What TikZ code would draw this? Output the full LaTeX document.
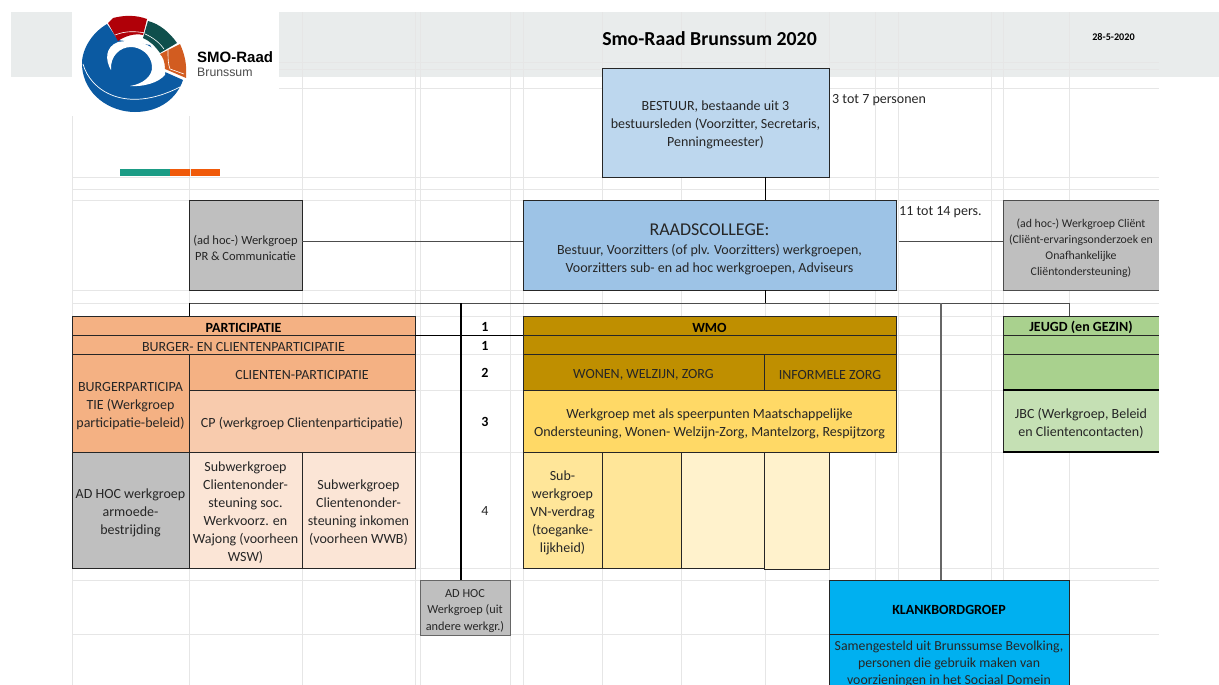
\documentclass[tikz,border=0pt]{standalone}
\usepackage{fontspec}
\setmainfont{Carlito}
\newfontfamily\logofont{Liberation Sans}
\usepackage{tikz}
\usetikzlibrary{positioning}
\definecolor{band}{HTML}{E9ECEC}
\definecolor{grid}{HTML}{E6E6E6}
\definecolor{oranje}{HTML}{F4B183}
\definecolor{oranjeb}{HTML}{F8CBAD}
\definecolor{oranjec}{HTML}{FBE5D6}
\definecolor{grijs}{HTML}{BFBFBF}
\definecolor{goud}{HTML}{BF8F00}
\definecolor{geel}{HTML}{FFD966}
\definecolor{geelb}{HTML}{FFE699}
\definecolor{geelc}{HTML}{FFF2CC}
\definecolor{groen}{HTML}{A9D18E}
\definecolor{groenb}{HTML}{C5E0B4}
\definecolor{bestuurkleur}{HTML}{BDD7EE}
\definecolor{raadkleur}{HTML}{9DC3E6}
\definecolor{klankkleur}{HTML}{00B0F0}
\definecolor{balkgroen}{HTML}{1B9C85}
\definecolor{balkoranje}{HTML}{F05A0A}
\definecolor{logoblauw}{HTML}{0B5AA2}
\definecolor{logorood}{HTML}{B00008}
\definecolor{logogroen}{HTML}{0F4F4C}
\definecolor{logooranje}{HTML}{D25C20}
\newcommand{\hoog}{\rule{0pt}{15pt}}
\tikzstyle{cell} = [draw=black!85,line width=0.7pt,inner sep=0pt,outer sep=0pt,align=center,text=black!85,font=\fontsize{14}{18}\selectfont,execute at begin node=\hoog]
\tikzstyle{openbox} = [inner sep=0pt,outer sep=0pt,align=center,text=black!85,font=\fontsize{14}{18}\selectfont,execute at begin node=\hoog]
\tikzstyle{tekst} = [inner sep=0pt,text=black!85,font=\fontsize{14}{18}\selectfont]
\tikzstyle{boldtekst} = [inner sep=0pt,text=black,font=\fontsize{14}{18}\selectfont\bfseries]
\tikzstyle{line} = [black!70,line width=0.9pt]
\begin{document}
\begin{tikzpicture}[x=1pt,y=-1pt]
	\useasboundingbox (0,0) rectangle (1219,685);
	%Background
	\fill[band] (11,12) rectangle (1219,77);
	\foreach \gy in {62,69,88,177,189,200,290,303,316,335,354,390,452,568,580,634}
		\draw[grid,line width=0.8pt] (72,\gy) -- (1159,\gy);
	\foreach \gx in {72,189,302,415,420,510,523,602,681,765,829,875,898,991,1003,1069}
		\draw[grid,line width=0.8pt] (\gx,12) -- (\gx,685);
	\fill[white] (72,12) rectangle (279,116);

	%Logo
	\fill[logoblauw] (107,24) .. controls (90,34) and (81,52) .. (82,66) .. controls (84,95) and (110,112) .. (135,112) .. controls (160,112) and (177,98) .. (183,80) -- (165,72) -- (150,45) -- (118,40) -- cycle;
	\fill[white] (111,70) .. controls (105,60) and (105,47) .. (118,42) .. controls (135,39) and (150,43) .. (160,55) .. controls (165,62) and (166,72) .. (165,75) .. controls (158,83) and (143,87) .. (130,86) .. controls (143,84) and (153,76) .. (152,66) .. controls (151,54) and (140,47) .. (131,47) .. controls (120,47) and (110,56) .. (111,70) -- cycle;
	\draw[white,line width=0.7pt] (83,64) .. controls (90,90) and (125,115) .. (180,87);
	\fill[logorood] (108,23) -- (113,18) .. controls (125,15) and (136,15) .. (147,19) -- (143,35) .. controls (135,33) and (125,36) .. (118,41) -- cycle;
	\fill[logogroen] (148,21) .. controls (160,24) and (170,33) .. (177,43) -- (160,53) .. controls (155,46) and (150,41) .. (143,38) -- cycle;
	\fill[logooranje] (180,44) .. controls (185,55) and (187,65) .. (186,78) -- (165,69) .. controls (165,62) and (163,57) .. (160,54) -- cycle;
	\draw[white,line width=0.6pt] (115,35) .. controls (125,31) and (135,31) .. (145,33) (145,34) .. controls (152,37) and (159,42) .. (164,49) (168,50) .. controls (168,58) and (168,64) .. (170,69) -- (184,74);
	\node[inner sep=0pt,anchor=west] (logotitel) at (197,57) {\logofont\fontsize{15}{15}\selectfont\bfseries SMO-Raad};
	\node[inner sep=0pt,anchor=west,text=black!70] (logosub) at (197,72) {\logofont\fontsize{12.3}{12}\selectfont Brunssum};
	\fill[balkgroen] (120,169) rectangle (170,176);
	\fill[balkoranje] (170,169) rectangle (220,176);
	\draw[grid,line width=0.8pt] (190,169) -- (190,176);

	%Title
	\node[boldtekst,font=\fontsize{19.8}{20}\selectfont\bfseries] (titel) at (709.5,39) {Smo-Raad Brunssum 2020};
	\node[boldtekst,font=\fontsize{10.2}{10}\selectfont\bfseries] (datum) at (1113.5,37) {28-5-2020};

	%Top
	\node[cell,fill=bestuurkleur,minimum width=227pt,minimum height=109pt,anchor=north west] (bestuur) at (602,68) {\hoog BESTUUR, bestaande uit 3\\bestuursleden (Voorzitter, Secretaris,\\Penningmeester)};
	\node[tekst,anchor=west] (aantal1) at (832,100) {3 tot 7 personen};
	\node[cell,fill=raadkleur,minimum width=373pt,minimum height=90pt,anchor=north west] (raads) at (523,200) {\rule{0pt}{20pt}{\fontsize{18}{20}\selectfont RAADSCOLLEGE:}\\[1pt]Bestuur, Voorzitters (of plv. Voorzitters) werkgroepen,\\Voorzitters sub- en ad hoc werkgroepen, Adviseurs};
	\node[tekst,anchor=west] (aantal2) at (899,212) {11 tot 14 pers.};
	\node[cell,fill=grijs,minimum width=113pt,minimum height=90pt,anchor=north west,font=\fontsize{12.5}{16}\selectfont] (pr) at (189,200) {\hoog (ad hoc-) Werkgroep\\PR \& Communicatie};
	\node[openbox,fill=grijs,minimum width=156pt,minimum height=90pt,anchor=north west,font=\fontsize{11.8}{16}\selectfont] (client) at (1003,200) {\hoog (ad hoc-) Werkgroep Cli\"ent\\(Cli\"ent-ervaringsonderzoek en\\Onafhankelijke\\Cli\"entondersteuning)};
	\draw[line,line width=1pt] (client.north east) -- (client.north west) -- (client.south west) -- (client.south east);

	%Participatie
	\node[cell,fill=oranje,minimum width=343pt,minimum height=19pt,anchor=north west,font=\fontsize{14}{18}\selectfont\bfseries,text=black] (part) at (72,316) {PARTICIPATIE};
	\node[cell,fill=oranje,minimum width=343pt,minimum height=19pt,below=0pt of part] (burger) {BURGER- EN CLIENTENPARTICIPATIE};
	\node[cell,fill=oranje,minimum width=117pt,minimum height=98pt,anchor=north west] (burgerp) at (burger.south west) {\hoog BURGERPARTICIPA\\TIE (Werkgroep\\participatie-beleid)};
	\node[cell,fill=oranje,minimum width=226pt,minimum height=36pt,anchor=north west] (clientp) at (burgerp.north east) {CLIENTEN-PARTICIPATIE};
	\node[cell,fill=oranjeb,minimum width=226pt,minimum height=62pt,below=0pt of clientp] (cp) {CP (werkgroep Clientenparticipatie)};
	\node[cell,fill=grijs,minimum width=117pt,minimum height=116pt,anchor=north west] (armoede) at (burgerp.south west) {\hoog AD HOC werkgroep\\armoede-\\bestrijding};
	\node[cell,fill=oranjec,minimum width=113pt,minimum height=116pt,right=0pt of armoede] (subsoc) {\hoog Subwerkgroep\\Clientenonder-\\steuning soc.\\Werkvoorz. en\\Wajong (voorheen\\WSW)};
	\node[cell,fill=oranjec,minimum width=113pt,minimum height=116pt,right=0pt of subsoc] (subink) {\hoog Subwerkgroep\\Clientenonder-\\steuning inkomen\\(voorheen WWB)};

	%Numbers
	\node[boldtekst] (nr1) at (485,327) {1};
	\node[boldtekst] (nr2) at (485,346) {1};
	\node[boldtekst] (nr3) at (485,373) {2};
	\node[boldtekst] (nr4) at (485,422) {3};
	\node[tekst] (nr5) at (485,511) {4};

	%Wmo
	\node[cell,fill=goud,minimum width=373pt,minimum height=19pt,anchor=north west,font=\fontsize{14}{18}\selectfont\bfseries,text=black] (wmo) at (523,316) {WMO};
	\node[cell,fill=goud,minimum width=373pt,minimum height=19pt,below=0pt of wmo] (wmoleeg) {};
	\node[cell,fill=goud,minimum width=241pt,minimum height=36pt,anchor=north west] (wonen) at (wmoleeg.south west) {WONEN, WELZIJN, ZORG};
	\node[cell,fill=goud,minimum width=132pt,minimum height=36pt,right=0pt of wonen] (informeel) {INFORMELE ZORG};
	\node[cell,fill=geel,minimum width=373pt,minimum height=62pt,anchor=north west] (speerpunt) at (wonen.south west) {\hoog Werkgroep met als speerpunten Maatschappelijke\\Ondersteuning, Wonen- Welzijn-Zorg, Mantelzorg, Respijtzorg};
	\node[cell,fill=geelb,minimum width=79pt,minimum height=116pt,anchor=north west] (vn) at (speerpunt.south west) {\hoog Sub-\\werkgroep\\VN-verdrag\\(toeganke-\\lijkheid)};
	\node[cell,fill=geelb,minimum width=79pt,minimum height=116pt,right=0pt of vn] (sub2) {};
	\node[cell,fill=geelc,minimum width=83pt,minimum height=116pt,right=0pt of sub2] (sub3) {};
	\node[cell,fill=geelc,minimum width=65pt,minimum height=117pt,anchor=north west] (sub4) at (sub3.north east) {};

	%Jeugd
	\node[openbox,fill=groen,minimum width=156pt,minimum height=19pt,anchor=north west,font=\fontsize{14}{18}\selectfont\bfseries,text=black] (jeugd) at (1003,316) {JEUGD (en GEZIN)};
	\node[openbox,fill=groen,minimum width=156pt,minimum height=19pt,below=0pt of jeugd] (jeugd2) {};
	\node[openbox,fill=groen,minimum width=156pt,minimum height=36pt,below=0pt of jeugd2] (jeugd3) {};
	\node[openbox,fill=groenb,minimum width=156pt,minimum height=62pt,below=0pt of jeugd3] (jbc) {\hoog JBC (Werkgroep,  Beleid\\en Clientencontacten)};
	\draw[black!85,line width=0.9pt] (jeugd.north east) -- (jeugd.north west) -- (jbc.south west);
	\draw[black,line width=1.2pt] (jbc.south west) -- (jbc.south east);
	\draw[black!85,line width=0.7pt] (jeugd.south west) -- (jeugd.south east);
	\draw[black!85,line width=0.7pt] (jeugd2.south west) -- (jeugd2.south east);
	\draw[black,line width=1.2pt] (jeugd3.south west) -- (jeugd3.south east);

	%Bottom
	\node[cell,draw=black!60,line width=1pt,fill=grijs,minimum width=90pt,minimum height=55pt,anchor=north west,font=\fontsize{12.3}{16.5}\selectfont] (adhoc) at (420,580) {\hoog AD HOC\\Werkgroep (uit\\andere werkgr.)};
	\node[cell,line width=1pt,fill=klankkleur,minimum width=240pt,minimum height=54pt,anchor=north west,font=\fontsize{14}{18}\selectfont\bfseries,text=black] (klank) at (829,580) {KLANKBORDGROEP};
	\node[cell,line width=1pt,fill=klankkleur,minimum width=240pt,minimum height=60pt,below=0pt of klank,font=\fontsize{13.8}{17}\selectfont] (klanktekst) {Samengesteld uit Brunssumse Bevolking,\\personen die gebruik maken van\\voorzieningen in het Sociaal Domein};

	%Lines
	\coordinate (stam) at (765,303);
	\coordinate (busl) at (189,303);
	\coordinate (busr) at (1069,303);
	\coordinate (midlijn) at (0,241);
	\coordinate (links) at (461,303);
	\coordinate (rechts) at (941,303);
	\draw[black,line width=1pt] (stam |- bestuur.south) -- (stam |- raads.north);
	\draw[black,line width=1pt] (stam |- raads.south) -- (stam);
	\draw[line] (busl) -- (busr);
	\draw[black,line width=1pt] (busl) -- (busl |- part.north);
	\draw[line] (busr) -- (busr |- jeugd.north);
	\draw[black,line width=1.3pt] (links) -- (links |- adhoc.north);
	\draw[black!60,line width=1.2pt] (rechts) -- (rechts |- klank.north);
	\draw[line] (pr.east |- midlijn) -- (raads.west |- midlijn);
	\draw[line,shorten <=3pt] (raads.east |- midlijn) -- (client.west |- midlijn);
	\draw[black,line width=0.7pt] (part.south east) -- (wmo.south west);
\end{tikzpicture}
\end{document}
